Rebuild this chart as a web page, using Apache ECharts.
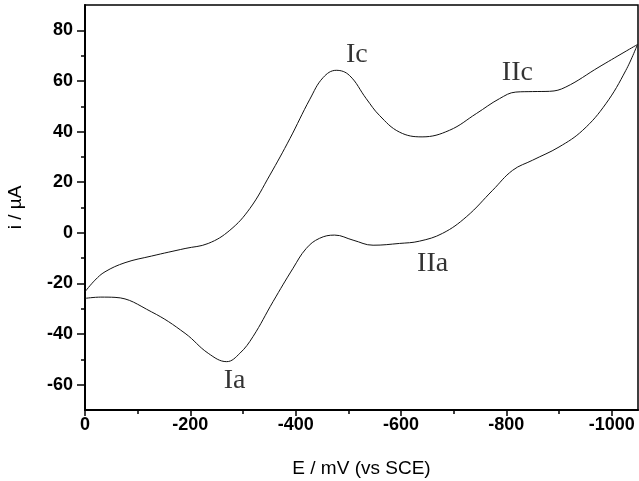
<!DOCTYPE html>
<html>
<head>
<meta charset="utf-8">
<script src="https://cdn.jsdelivr.net/npm/echarts@6/dist/echarts.min.js"></script>
<style>html,body{margin:0;padding:0;background:#fff}#c{width:639px;height:481px}</style>
</head>
<body>
<div id="c"></div>
<script>
// Cathodic (forward) sweep
const forwardE = [0, -19, -38, -76, -126, -190, -234, -275, -313, -351, -389, -427, -452, -477, -502, -534, -559, -597, -640, -692, -743, -787, -818, -850, -882, -913, -976, -1049];
const forwardI = [-23.3, -18.7, -15.4, -11.8, -9.2, -6.2, -4.2, 1.0, 9.6, 22.8, 37.2, 52.8, 61.3, 64.2, 62.2, 53.0, 46.4, 39.8, 37.9, 40.5, 47.1, 53.0, 55.6, 55.8, 55.9, 57.6, 65.5, 74.4];
// Anodic (reverse) sweep
const reverseE = [-1049, -1027, -989, -945, -900, -850, -812, -774, -724, -679, -635, -597, -547, -509, -474, -445, -420, -395, -357, -319, -294, -269, -234, -190, -126, -57, -30, 0];
const reverseI = [74.4, 64.2, 51.0, 40.5, 33.9, 28.7, 24.7, 16.8, 6.3, -0.2, -3.3, -4.2, -4.9, -2.9, -0.9, -2.2, -6.2, -14.0, -27.2, -41.0, -47.6, -50.9, -47.6, -39.7, -31.2, -25.5, -25.4, -25.9];
// Peak labels
const peakText = ['Ic', 'IIc', 'IIa', 'Ia'];
const peakE = [-516, -821, -660, -284];
const peakI = [70.5, 63.4, -12, -58.5];
// Ticks
const xMajor = [0, -200, -400, -600, -800, -1000];
const xMinor = [-100, -300, -500, -700, -900];
const yMajor = [-60, -40, -20, 0, 20, 40, 60, 80];
const yMinor = [-50, -30, -10, 10, 30, 50, 70];

const zip = (a, b) => a.map((v, i) => [v, b[i]]);
const loop = zip(forwardE, forwardI).concat(zip(reverseE, reverseI).slice(1));

const chart = echarts.init(document.getElementById('c'));
const tickFont = {fontFamily: 'Liberation Sans', fontWeight: 'bold', fontSize: 18, color: '#000', formatter: v => String(v)};
chart.setOption({
  animation: false,
  grid: {left: 85, right: 1, top: 5, bottom: 71, show: true, borderColor: '#000', borderWidth: 1.5,
    containLabel: false, outerBoundsMode: 'none'},
  xAxis: [{
    type: 'value', min: -1050, max: 0, inverse: true, position: 'bottom',
    name: 'E / mV (vs SCE)', nameLocation: 'middle', nameGap: 49,
    nameTextStyle: {fontFamily: 'Liberation Sans', fontSize: 19, color: '#000'},
    axisLine: {show: true, onZero: false, lineStyle: {color: '#000', width: 2}},
    axisTick: {show: true, inside: false, length: 6, customValues: xMajor, lineStyle: {color: '#000', width: 1.5}},
    axisLabel: Object.assign({customValues: xMajor, margin: 6}, tickFont),
    splitLine: {show: false}
  }, {
    type: 'value', min: -1050, max: 0, inverse: true, position: 'bottom',
    axisLine: {show: false, onZero: false},
    axisTick: {show: true, length: 4, customValues: xMinor, lineStyle: {color: '#000', width: 1.5}},
    axisLabel: {show: false}, splitLine: {show: false}
  }],
  yAxis: [{
    type: 'value', min: -70, max: 90, position: 'left',
    name: 'i / µA', nameLocation: 'middle', nameGap: 60, nameRotate: 90,
    nameTextStyle: {fontFamily: 'Liberation Sans', fontSize: 19, color: '#000'},
    axisLine: {show: true, onZero: false, lineStyle: {color: '#000', width: 2}},
    axisTick: {show: true, length: 8, customValues: yMajor, lineStyle: {color: '#000', width: 1.5}},
    axisLabel: Object.assign({customValues: yMajor, margin: 12}, tickFont),
    splitLine: {show: false}
  }, {
    type: 'value', min: -70, max: 90, position: 'left',
    axisLine: {show: false, onZero: false},
    axisTick: {show: true, length: 4, customValues: yMinor, lineStyle: {color: '#000', width: 1.5}},
    axisLabel: {show: false}, splitLine: {show: false}
  }],
  series: [{
    type: 'line', data: loop, smooth: 0.4, showSymbol: false,
    lineStyle: {color: '#111', width: 1}, xAxisIndex: 0, yAxisIndex: 0
  }, {
    type: 'scatter', symbolSize: 0, xAxisIndex: 0, yAxisIndex: 0,
    data: peakE.map((e, i) => ({value: [e, peakI[i]], name: peakText[i]})),
    label: {show: true, position: 'inside', formatter: p => p.name,
      fontFamily: 'Liberation Serif', fontSize: 28, color: '#000'}
  }]
});
</script>
</body>
</html>
